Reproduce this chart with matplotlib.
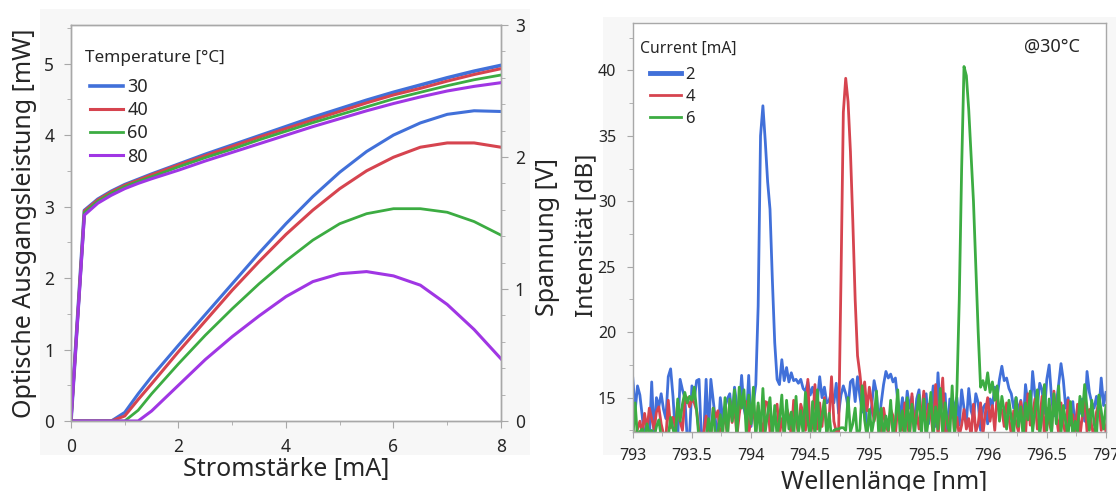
import numpy as np
import matplotlib.pyplot as plt
from matplotlib.ticker import MultipleLocator
from matplotlib.patches import Rectangle
from matplotlib.lines import Line2D

plt.rcParams['font.family'] = ['Noto Sans', 'DejaVu Sans']

# ---- left: power / voltage vs current ----
current = [0, 0.25, 0.5, 0.75, 1.0, 1.25, 1.5, 2.0, 2.5, 3.0, 3.5, 4.0, 4.5, 5.0, 5.5, 6.0, 6.5, 7.0, 7.5, 8.0]
temps = ['30', '40', '60', '80']

power_30 = [0, 0, 0, 0, 0.12, 0.38, 0.62, 1.06, 1.49, 1.92, 2.35, 2.76, 3.14, 3.48, 3.77, 4.00, 4.17, 4.29, 4.34, 4.33]
power_40 = [0, 0, 0, 0, 0.07, 0.30, 0.52, 0.97, 1.40, 1.83, 2.23, 2.61, 2.95, 3.25, 3.50, 3.69, 3.83, 3.89, 3.89, 3.83]
power_60 = [0, 0, 0, 0, 0, 0.15, 0.38, 0.80, 1.20, 1.57, 1.92, 2.24, 2.53, 2.76, 2.90, 2.97, 2.97, 2.92, 2.79, 2.60]
power_80 = [0, 0, 0, 0, 0, 0, 0.14, 0.50, 0.86, 1.18, 1.47, 1.74, 1.95, 2.06, 2.09, 2.03, 1.90, 1.63, 1.28, 0.87]

voltage_30 = [0, 1.595, 1.68, 1.74, 1.79, 1.83, 1.87, 1.945, 2.02, 2.09, 2.16, 2.23, 2.30, 2.365, 2.43, 2.49, 2.545, 2.60, 2.65, 2.694]
voltage_40 = [0, 1.59, 1.675, 1.735, 1.785, 1.825, 1.865, 1.94, 2.01, 2.08, 2.15, 2.215, 2.28, 2.345, 2.41, 2.47, 2.52, 2.575, 2.625, 2.669]
voltage_60 = [0, 1.58, 1.665, 1.725, 1.775, 1.815, 1.85, 1.925, 1.995, 2.06, 2.13, 2.195, 2.26, 2.32, 2.38, 2.44, 2.49, 2.54, 2.585, 2.621]
voltage_80 = [0, 1.56, 1.65, 1.71, 1.76, 1.80, 1.835, 1.90, 1.97, 2.035, 2.10, 2.165, 2.23, 2.29, 2.35, 2.405, 2.455, 2.50, 2.535, 2.563]

# ---- right: spectra at 30 C ----
wavelength = np.linspace(793, 797, 201)
currents = ['2', '4', '6']

spec_2 = [
    16.5, 14.0, 15.9, 15.2, 13.6, 11.9, 12.1, 11.8, 16.2, 12.0,
    15.0, 14.3, 15.3, 14.1, 13.4, 16.6, 17.2, 15.1, 12.2, 11.9,
    16.4, 15.6, 15.0, 11.9, 12.1, 15.9, 14.9, 16.3, 16.4, 11.9,
    12.1, 16.4, 12.0, 16.4, 14.8, 13.2, 12.0, 15.0, 13.4, 14.3,
    14.9, 15.3, 13.5, 15.8, 14.4, 13.9, 16.7, 14.2, 13.3, 16.7,
    12.8, 14.6, 16.0, 22.0, 35.0, 37.3, 34.6, 31.5, 29.4, 24.0,
    19.2, 16.4, 16.0, 17.9, 16.3, 17.3, 16.2, 16.9, 16.3, 16.4,
    16.1, 16.4, 15.7, 15.5, 16.2, 15.2, 15.8, 14.9, 14.7, 16.6,
    15.0, 15.8, 14.6, 14.8, 15.4, 14.6, 16.1, 13.8, 15.2, 15.9,
    15.3, 14.3, 16.2, 16.4, 14.7, 16.6, 15.1, 13.9, 15.4, 12.6,
    13.2, 14.4, 16.3, 15.4, 13.0, 14.6, 16.0, 17.0, 16.5, 16.8,
    16.2, 16.5, 14.8, 13.6, 15.0, 13.3, 15.5, 14.2, 15.1, 12.6,
    14.9, 15.6, 13.1, 14.5, 15.3, 13.0, 14.2, 15.9, 12.8, 16.9,
    13.8, 14.6, 15.3, 12.2, 14.9, 13.5, 14.4, 15.0, 12.9, 15.6,
    14.2, 13.1, 15.7, 14.0, 13.4, 15.3, 14.6, 12.5, 14.2, 14.5,
    13.0, 14.9, 14.4, 15.8, 15.0, 16.4, 17.4, 16.3, 16.5, 15.7,
    15.3, 14.2, 15.0, 13.9, 14.8, 12.8, 16.0, 14.5, 13.6, 17.0,
    15.2, 14.3, 16.1, 15.6, 13.8, 16.4, 17.5, 15.0, 13.6, 14.5,
    16.0, 17.6, 16.3, 14.2, 15.0, 13.5, 14.7, 12.6, 14.3, 13.8,
    14.9, 13.2, 17.0, 15.4, 14.6, 14.2, 15.1, 13.9, 16.5, 14.4,
    15.4]

spec_4 = [
    11.8, 12.0, 12.6, 13.2, 12.3, 13.8, 12.5, 14.2, 13.4, 12.6,
    13.9, 14.3, 13.0, 12.2, 11.9, 14.8, 12.7, 13.5, 12.8, 14.6,
    13.2, 12.5, 14.8, 15.0, 14.3, 14.9, 14.6, 14.0, 12.4, 11.9,
    12.3, 13.6, 12.2, 11.9, 14.2, 13.5, 14.0, 11.8, 12.9, 13.6,
    12.1, 14.8, 13.1, 14.5, 12.0, 13.7, 15.0, 14.6, 14.7, 12.2,
    13.5, 14.1, 12.5, 14.4, 13.2, 12.2, 14.7, 14.6, 12.4, 12.6,
    13.9, 14.5, 12.1, 13.4, 12.3, 14.2, 13.6, 12.0, 14.8, 13.4,
    12.2, 14.5, 13.8, 12.5, 16.4, 12.0, 13.1, 16.0, 12.6, 14.6,
    12.8, 15.0, 12.3, 13.4, 16.6, 13.2, 12.4, 12.2, 24.0, 36.8,
    39.4, 37.6, 33.8, 28.5, 22.5, 18.2, 16.8, 15.0, 16.2, 14.0,
    15.8, 14.6, 13.2, 14.0, 13.8, 12.4, 14.2, 13.0, 12.3, 14.1,
    13.6, 12.1, 14.4, 13.0, 12.5, 14.6, 13.2, 11.9, 15.3, 12.8,
    14.0, 12.6, 13.5, 15.5, 12.2, 14.5, 13.8, 12.1, 16.0, 12.0,
    14.2, 16.5, 12.4, 12.0, 13.6, 14.8, 12.3, 13.5, 12.1, 12.9,
    14.1, 12.6, 13.4, 12.0, 14.5, 12.4, 13.0, 14.6, 12.2, 13.8,
    15.0, 13.2, 14.4, 12.5, 15.2, 13.8, 14.1, 12.8, 14.6, 13.4,
    12.2, 14.0, 13.1, 12.4, 14.7, 13.5, 12.1, 15.3, 12.9, 13.8,
    14.9, 12.6, 13.3, 15.1, 12.0, 14.2, 13.1, 12.4, 15.5, 13.6,
    12.3, 14.6, 13.0, 12.1, 14.8, 12.9, 13.7, 12.2, 14.5, 12.0,
    13.6, 15.0, 12.4, 14.1, 12.8, 11.9, 13.9, 14.6, 12.5, 13.3,
    12.4]

spec_6 = [
    11.8, 14.6, 11.9, 12.4, 12.6, 11.8, 13.0, 12.2, 12.5, 11.9,
    12.8, 13.3, 12.0, 11.9, 12.3, 12.0, 13.5, 12.6, 11.9, 14.9,
    13.2, 14.5, 15.4, 14.6, 15.1, 14.8, 15.8, 14.0, 11.8, 12.2,
    12.0, 11.9, 13.4, 12.1, 14.2, 11.8, 12.3, 13.7, 12.1, 15.0,
    11.9, 14.9, 13.2, 15.6, 12.0, 15.8, 14.2, 15.6, 12.2, 15.2,
    13.0, 15.8, 11.9, 14.6, 12.1, 15.7, 12.4, 13.8, 15.0, 11.9,
    14.4, 12.0, 13.3, 15.2, 11.8, 14.8, 12.6, 13.9, 11.9, 15.1,
    12.3, 14.0, 12.2, 15.4, 13.2, 11.8, 14.7, 12.0, 15.6, 12.4,
    13.6, 14.8, 12.1, 13.8, 11.9, 12.5, 12.6, 12.6, 12.7, 12.7,
    12.5, 15.0, 12.4, 13.0, 14.2, 11.8, 12.6, 15.9, 13.3, 12.0,
    14.1, 12.3, 13.4, 15.5, 12.0, 14.2, 11.9, 13.6, 12.5, 14.8,
    12.0, 13.2, 15.6, 12.3, 14.0, 11.8, 15.0, 12.4, 14.5, 12.1,
    13.8, 15.2, 12.2, 14.9, 11.9, 13.5, 15.4, 12.0, 14.3, 12.6,
    15.7, 12.1, 14.6, 13.0, 12.2, 15.9, 12.0, 15.5, 22.5, 32.5,
    40.3, 39.6, 37.0, 33.5, 30.0, 25.0, 20.0, 15.8, 16.3, 15.6,
    16.9, 15.4, 16.2, 14.8, 15.9, 13.2, 15.1, 14.0, 12.6, 14.8,
    13.4, 12.2, 15.0, 12.8, 14.3, 11.9, 14.6, 13.3, 15.5, 12.4,
    14.0, 15.6, 12.1, 13.7, 16.0, 12.5, 14.9, 12.2, 15.3, 13.0,
    15.9, 12.3, 14.4, 13.1, 12.0, 14.7, 11.9, 13.2, 12.4, 15.1,
    13.6, 16.0, 14.2, 12.5, 14.8, 13.0, 12.1, 15.2, 14.0, 12.6,
    14.4]

blue = '#4170d9'
red = '#d6444f'
green = '#3cac42'
purple = '#a036e4'
spine_col = '#a8a8a8'
text_col = '#262626'

fig = plt.figure(figsize=(11.16, 4.91), dpi=100)
fig.patches.append(Rectangle((0.036, 0.073), 0.439, 0.909, transform=fig.transFigure,
                             facecolor='#f7f7f7', edgecolor='none', zorder=-10))
fig.patches.append(Rectangle((0.540, 0.073), 0.460, 0.893, transform=fig.transFigure,
                             facecolor='#f7f7f7', edgecolor='none', zorder=-10))


def style_axes(ax):
    for s in ax.spines.values():
        s.set_color(spine_col)
        s.set_linewidth(1.0)
    ax.tick_params(which='both', direction='out', color=spine_col, labelcolor=text_col)
    ax.tick_params(which='major', length=5)
    ax.tick_params(which='minor', length=3)


# left panel
ax1 = fig.add_axes([0.0636, 0.1426, 0.3853, 0.8065])
ax2 = ax1.twinx()
ax1.set_facecolor('white')

ax1.plot(current, power_30, color=blue, lw=2.2)
ax1.plot(current, power_40, color=red, lw=2.2)
ax1.plot(current, power_60, color=green, lw=2.0)
ax1.plot(current, power_80, color=purple, lw=2.2)

l30, = ax2.plot(current, voltage_30, color=blue, lw=2.6)
l40, = ax2.plot(current, voltage_40, color=red, lw=2.2)
l60, = ax2.plot(current, voltage_60, color=green, lw=2.0)
l80, = ax2.plot(current, voltage_80, color=purple, lw=2.2)

ax1.set_xlim(0, 8)
ax1.set_ylim(0, 5.54)
ax2.set_ylim(0, 3)
ax1.xaxis.set_major_locator(MultipleLocator(2))
ax1.xaxis.set_minor_locator(MultipleLocator(1))
ax1.yaxis.set_major_locator(MultipleLocator(1))
ax1.yaxis.set_minor_locator(MultipleLocator(0.5))
ax2.yaxis.set_major_locator(MultipleLocator(1))
ax2.yaxis.set_minor_locator(MultipleLocator(0.2))
style_axes(ax1)
style_axes(ax2)
ax1.tick_params(axis='both', which='major', labelsize=12.5, pad=7)
ax2.tick_params(axis='y', which='major', labelsize=12.5, pad=5)

ax1.set_xlabel('Stromstärke [mA]', fontsize=18, color=text_col)
ax1.xaxis.set_label_coords(0.5, -0.09)
ax1.set_ylabel('Optische Ausgangsleistung [mW]', fontsize=18, color=text_col)
ax1.yaxis.set_label_coords(-0.08, 0.5)
ax2.set_ylabel('Spannung [V]', fontsize=18, color=text_col)
ax2.yaxis.set_label_coords(1.079, 0.465)

ax2.text(0.033, 0.917, 'Temperature [°C]', transform=ax2.transAxes, ha='left',
         va='center', fontsize=12.3, color=text_col)
leg1 = ax2.legend([l30, l40, l60, l80], temps, loc='upper left',
                  bbox_to_anchor=(0.024, 0.888), frameon=False, fontsize=13,
                  handlelength=1.8, handletextpad=0.25,
                  labelspacing=0.28, borderpad=0)
for t in leg1.get_texts():
    t.set_color(text_col)

# right panel
ax3 = fig.add_axes([0.567, 0.1208, 0.424, 0.8317])
ax3.set_facecolor('white')
ax3.plot(wavelength, spec_2, color=blue, lw=2.0)
ax3.plot(wavelength, spec_4, color=red, lw=2.0)
ax3.plot(wavelength, spec_6, color=green, lw=2.0)
ax3.set_xlim(793, 797)
ax3.set_ylim(12.4, 43.6)
ax3.xaxis.set_major_locator(MultipleLocator(0.5))
ax3.xaxis.set_minor_locator(MultipleLocator(0.25))
ax3.yaxis.set_major_locator(MultipleLocator(5))
ax3.yaxis.set_minor_locator(MultipleLocator(2.5))
ax3.xaxis.set_major_formatter(plt.FuncFormatter(lambda v, p: f'{v:g}'))
style_axes(ax3)
ax3.tick_params(which='major', length=4, labelsize=11.5, pad=8)
ax3.tick_params(which='minor', length=3)

ax3.set_xlabel('Wellenlänge [nm]', fontsize=18, color=text_col)
ax3.xaxis.set_label_coords(0.531, -0.094)
ax3.set_ylabel('Intensität [dB]', fontsize=17.5, color=text_col)
ax3.yaxis.set_label_coords(-0.073, 0.482)

ax3.text(0.016, 0.937, 'Current [mA]', transform=ax3.transAxes, ha='left',
         va='center', fontsize=11.3, color=text_col)
h2 = Line2D([], [], color=blue, lw=3.5)
h4 = Line2D([], [], color=red, lw=2.0)
h6 = Line2D([], [], color=green, lw=2.0)
leg2 = ax3.legend([h2, h4, h6], currents, loc='upper left',
                  bbox_to_anchor=(0.018, 0.914), frameon=False, fontsize=12,
                  handlelength=1.9, handletextpad=0.25,
                  labelspacing=0.36, borderpad=0)
for t in leg2.get_texts():
    t.set_color(text_col)

ax3.text(0.945, 0.942, '@30°C', transform=ax3.transAxes, ha='right', va='center',
         fontsize=13, color=text_col)

fig.savefig('out.png', dpi=100)
